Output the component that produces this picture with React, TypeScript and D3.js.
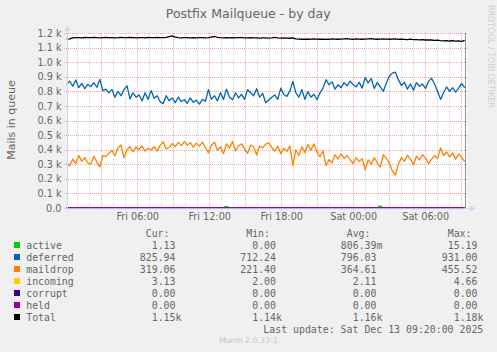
import { useEffect, useRef } from "react"
import * as d3 from "d3"

// 15 minute samples, Fri 00:10 -> Sat 09:20
const startTime = new Date(2025, 11, 12, 0, 10)
const endTime = new Date(2025, 11, 13, 9, 20)

const deferred = [
  848, 870, 835, 878, 826, 855, 818, 848, 832, 860,
  828, 882, 805, 815, 790, 812, 760, 800, 770, 812,
  838, 748, 790, 760, 775, 735, 790, 745, 805, 752,
  770, 728, 715, 770, 735, 755, 722, 760, 730, 742,
  718, 755, 725, 740, 712, 745, 732, 812, 745, 770,
  735, 790, 745, 815, 760, 742, 790, 755, 780, 745,
  812, 790, 770, 818, 760, 785, 722, 740, 760, 775,
  745, 822, 780, 765, 800, 868, 790, 760, 812, 745,
  798, 760, 780, 742, 790, 822, 880, 845, 865, 815,
  845, 825, 860, 838, 870, 845, 830, 862, 822, 895,
  858, 888, 820, 860, 830, 800, 855, 905, 925, 931,
  880, 840, 862, 815, 850, 808, 860, 835, 850, 820,
  868, 890, 850, 800, 745, 790, 830, 800, 825, 795,
  822, 855, 826,
]

const maildrop = [
  311, 290, 335, 305, 360, 320, 345, 310, 300, 355,
  315, 282, 360, 352, 375, 395, 360, 412, 432, 345,
  400, 420, 385, 418, 400, 425, 390, 410, 398, 420,
  392, 430, 455, 405, 415, 442, 420, 450, 428, 455,
  432, 448, 418, 445, 425, 452, 415, 378, 430, 452,
  395, 420, 372, 440, 410, 455, 392, 425, 440, 405,
  375, 432, 418, 365, 425, 412, 438, 446, 415, 390,
  425, 372, 410, 388, 425, 290, 398, 360, 420, 380,
  435, 395, 440, 385, 350, 392, 290, 332, 310, 365,
  335, 372, 340, 360, 330, 305, 345, 318, 338, 262,
  330, 300, 345, 310, 280, 365, 340, 310, 254, 225,
  300, 345, 320, 362, 335, 298, 355, 330, 365, 342,
  305, 335, 358, 340, 412, 360, 385, 350, 378, 335,
  370, 345, 319,
]

const total = [
  1158, 1160, 1166, 1168, 1168, 1167, 1169, 1168, 1168, 1170,
  1168, 1167, 1168, 1169, 1168, 1168, 1167, 1168, 1170, 1168,
  1168, 1169, 1168, 1166, 1168, 1168, 1167, 1169, 1168, 1168,
  1170, 1168, 1168, 1170, 1175, 1180, 1172, 1168, 1167, 1168,
  1168, 1167, 1168, 1166, 1168, 1168, 1167, 1168, 1172, 1176,
  1170, 1168, 1167, 1168, 1166, 1168, 1167, 1168, 1168, 1166,
  1167, 1168, 1166, 1167, 1165, 1167, 1166, 1165, 1167, 1170,
  1166, 1165, 1166, 1165, 1164, 1166, 1160, 1158, 1157, 1158,
  1157, 1158, 1160, 1158, 1157, 1158, 1156, 1157, 1160, 1158,
  1157, 1158, 1160, 1162, 1158, 1157, 1160, 1158, 1157, 1158,
  1160, 1162, 1158, 1157, 1158, 1160, 1158, 1157, 1158, 1160,
  1157, 1157, 1156, 1155, 1158, 1154, 1155, 1153, 1154, 1152,
  1153, 1152, 1150, 1151, 1148, 1146, 1148, 1145, 1147, 1144,
  1146, 1143, 1149,
]

const active = [
  0, 1, 0, 0, 1, 2, 0, 1, 0, 0,
  1, 0, 2, 1, 0, 0, 1, 0, 1, 0,
  0, 1, 0, 2, 0, 1, 0, 0, 1, 1,
  0, 0, 1, 0, 2, 0, 1, 0, 0, 1,
  0, 1, 0, 0, 1, 0, 2, 1, 0, 0,
  1, 0, 4, 11, 2, 0, 1, 0, 0, 1,
  0, 1, 0, 0, 2, 1, 0, 0, 1, 0,
  1, 0, 0, 1, 0, 2, 0, 1, 0, 0,
  1, 0, 1, 0, 0, 1, 0, 2, 0, 1,
  0, 0, 1, 0, 1, 0, 0, 1, 0, 2,
  0, 1, 0, 3, 15.19, 2, 0, 1, 0, 0,
  1, 0, 1, 0, 0, 2, 0, 1, 0, 0,
  1, 0, 1, 0, 2, 0, 0, 1, 0, 1,
  0, 2, 1.13,
]

const incoming = [
  2, 2, 3, 2, 2, 2, 3, 2, 2, 2,
  2, 3, 2, 2, 2, 2, 2, 3, 2, 2,
  2, 2, 2, 3, 2, 2, 2, 2, 3, 2,
  2, 2, 2, 2, 3, 2, 2, 2, 2, 2,
  3, 2, 2, 2, 3, 4.66, 2, 2, 2, 2,
  2, 2, 3, 2, 2, 2, 2, 2, 3, 2,
  2, 2, 2, 2, 2, 3, 2, 2, 2, 2,
  3, 2, 2, 2, 2, 2, 2, 3, 2, 2,
  2, 2, 3, 2, 2, 2, 2, 2, 2, 3,
  2, 2, 2, 2, 3, 2, 2, 2, 2, 2,
  2, 3, 2, 2, 2, 2, 2, 3, 2, 2,
  2, 2, 2, 2, 3, 2, 2, 2, 2, 2,
  3, 2, 2, 2, 2, 2, 2, 3, 2, 2,
  2, 2, 3.13,
]

const corrupt = [0, 0, 0, 0, 0, 0, 0, 0, 0, 0, 0, 0]
const held = [0, 0, 0, 0, 0, 0, 0, 0, 0, 0, 0, 0]

const seriesNames = ["active", "deferred", "maildrop", "incoming", "corrupt", "held", "Total"]
const seriesColors = ["#00CC00", "#0066B3", "#FF8000", "#FFCC00", "#330099", "#990099", "#000000"]
const seriesValues = [active, deferred, maildrop, incoming, corrupt, held, total]

const curVals = ["1.13", "825.94", "319.06", "3.13", "0.00", "0.00", "1.15k"]
const minVals = ["0.00", "712.24", "221.40", "2.00", "0.00", "0.00", "1.14k"]
const avgVals = ["806.39m", "796.03", "364.61", "2.11", "0.00", "0.00", "1.16k"]
const maxVals = ["15.19", "931.00", "455.52", "4.66", "0.00", "0.00", "1.18k"]
const columnHeaders = ["Cur:", "Min:", "Avg:", "Max:"]

const yTickValues = [0, 100, 200, 300, 400, 500, 600, 700, 800, 900, 1000, 1100, 1200]
const yTickLabels = ["0.0", "0.1 k", "0.2 k", "0.3 k", "0.4 k", "0.5 k", "0.6 k", "0.7 k", "0.8 k", "0.9 k", "1.0 k", "1.1 k", "1.2 k"]
const xTickLabels = ["Fri 06:00", "Fri 12:00", "Fri 18:00", "Sat 00:00", "Sat 06:00"]
const xTickTimes = [
  new Date(2025, 11, 12, 6),
  new Date(2025, 11, 12, 12),
  new Date(2025, 11, 12, 18),
  new Date(2025, 11, 13, 0),
  new Date(2025, 11, 13, 6),
]

const FONT = "'DejaVu Sans', sans-serif"
const MONO = "'DejaVu Sans Mono', monospace"
const TEXT = "#666666"

export default function App() {
  const svgRef = useRef<SVGSVGElement>(null)

  useEffect(() => {
    if (!svgRef.current) return
    const svg = d3.select(svgRef.current)
    svg.selectAll("*").remove()

    const left = 67
    const right = 465
    const top = 33
    const bottom = 208

    const x = d3.scaleTime().domain([startTime, endTime]).range([left - 0.3, right - 0.3])
    const y = d3.scaleLinear().domain([0, 1200]).range([bottom, top])

    svg.append("rect").attr("width", 497).attr("height", 352).attr("fill", "#F0F0F0")
    svg.append("rect").attr("x", left).attr("y", top).attr("width", right + 2 - left).attr("height", bottom - top).attr("fill", "#ffffff")

    // minor grid: every hour, major: every 3 hours
    const hours = d3.timeHour.range(d3.timeHour.ceil(startTime), endTime)
    svg
      .append("g")
      .selectAll("line")
      .data(hours)
      .enter()
      .append("line")
      .attr("x1", (d) => Math.round(x(d)) + 0.5)
      .attr("x2", (d) => Math.round(x(d)) + 0.5)
      .attr("y1", top)
      .attr("y2", bottom + 3)
      .attr("stroke", (d) => (d.getHours() % 3 === 0 ? "#F4A7A7" : "#d3d3d3"))
      .attr("stroke-dasharray", "1,1")

    svg
      .append("g")
      .selectAll("line")
      .data(yTickValues)
      .enter()
      .append("line")
      .attr("x1", left - 3)
      .attr("x2", right + 2)
      .attr("y1", (d) => Math.round(y(d)) + 0.5)
      .attr("y2", (d) => Math.round(y(d)) + 0.5)
      .attr("stroke", "#F4A7A7")
      .attr("stroke-dasharray", "1,1")

    // right edge marker
    svg.append("line").attr("x1", right + 0.5).attr("x2", right + 0.5).attr("y1", top).attr("y2", bottom).attr("stroke", "#8c8c8c")

    // y labels
    svg
      .append("g")
      .selectAll("text")
      .data(yTickValues)
      .enter()
      .append("text")
      .attr("x", 61.5)
      .attr("y", (d) => y(d) + 3.6)
      .attr("text-anchor", "end")
      .attr("fill", TEXT)
      .style("font-family", FONT)
      .style("font-size", "9.7px")
      .text((d, i) => yTickLabels[i])

    // x labels
    svg
      .append("g")
      .selectAll("text")
      .data(xTickTimes)
      .enter()
      .append("text")
      .attr("x", (d) => x(d) + 1)
      .attr("y", 219.5)
      .attr("text-anchor", "middle")
      .attr("fill", TEXT)
      .style("font-family", FONT)
      .style("font-size", "9.7px")
      .text((d, i) => xTickLabels[i])

    // series
    seriesValues.forEach((vals, k) => {
      const step = (endTime.getTime() - startTime.getTime()) / (vals.length - 1)
      const line = d3
        .line<number>()
        .x((d, i) => x(new Date(startTime.getTime() + i * step)))
        .y((d) => y(d))
      svg
        .append("path")
        .datum(vals)
        .attr("d", line)
        .attr("fill", "none")
        .attr("stroke", seriesColors[k])
        .attr("stroke-width", 1.3)
        .attr("stroke-linejoin", "round")
    })

    // axes + arrows, painted over the series like rrdtool does
    svg.append("line").attr("x1", left - 3).attr("x2", right + 5).attr("y1", bottom + 0.5).attr("y2", bottom + 0.5).attr("stroke", "#CFD6F8").attr("stroke-opacity", 0.8)
    svg.append("line").attr("x1", left + 0.5).attr("x2", left + 0.5).attr("y1", top - 3).attr("y2", bottom + 3).attr("stroke", "#CFD6F8")
    svg.append("path").attr("d", `M${left + 0.5},${top - 7} L${left + 3.5},${top - 2} L${left - 2.5},${top - 2} Z`).attr("fill", "#CFD6F8")
    svg.append("path").attr("d", `M${right + 11},${bottom + 0.5} L${right + 5},${bottom - 2.5} L${right + 5},${bottom + 3.5} Z`).attr("fill", "#CFD6F8")

    // title
    svg
      .append("text")
      .attr("x", 248.2)
      .attr("y", 18)
      .attr("text-anchor", "middle")
      .attr("fill", TEXT)
      .style("font-family", FONT)
      .style("font-size", "12.5px")
      .text("Postfix Mailqueue - by day")

    svg
      .append("text")
      .attr("transform", "translate(15,120) rotate(-90)")
      .attr("text-anchor", "middle")
      .attr("fill", TEXT)
      .style("font-family", FONT)
      .style("font-size", "11px")
      .text("Mails in queue")

    svg
      .append("text")
      .attr("transform", "translate(488,5) rotate(90)")
      .attr("fill", "#cfcfcf")
      .style("font-family", FONT)
      .style("font-size", "8px")
      .text("RRDTOOL / TOBI OETIKER")

    // legend
    const colEnds = [175.5, 276, 376.5, 477.5]
    const legendCols = [curVals, minVals, avgVals, maxVals]
    const mono = (sel: any) => sel.attr("fill", TEXT).style("font-family", MONO).style("font-size", "9.9px")

    columnHeaders.forEach((h, c) => {
      mono(svg.append("text").attr("x", colEnds[c] - 6).attr("y", 237).attr("text-anchor", "end")).text(h)
    })

    seriesNames.forEach((name, r) => {
      const by = 249 + r * 12
      svg.append("rect").attr("x", 14).attr("y", by - 7).attr("width", 6).attr("height", 6).attr("fill", seriesColors[r])
      mono(svg.append("text").attr("x", 26.2).attr("y", by)).text(name)
      legendCols.forEach((col, c) => {
        const s = col[r]
        const hasUnit = /[a-z]$/i.test(s)
        const num = hasUnit ? s.slice(0, -1) : s
        mono(svg.append("text").attr("x", colEnds[c]).attr("y", by).attr("text-anchor", "end")).text(num)
        if (hasUnit) mono(svg.append("text").attr("x", colEnds[c]).attr("y", by)).text(s.slice(-1))
      })
    })

    mono(svg.append("text").attr("x", 483.3).attr("y", 333).attr("text-anchor", "end")).text("Last update: Sat Dec 13 09:20:00 2025")

    svg
      .append("text")
      .attr("x", 248.3)
      .attr("y", 343.3)
      .attr("text-anchor", "middle")
      .attr("fill", "#c4c4c4")
      .style("font-family", FONT)
      .style("font-size", "7.8px")
      .text("Munin 2.0.33-1")
  }, [])

  return <svg ref={svgRef} width={497} height={352} style={{ position: "absolute", left: 0, top: 0 }} />
}
